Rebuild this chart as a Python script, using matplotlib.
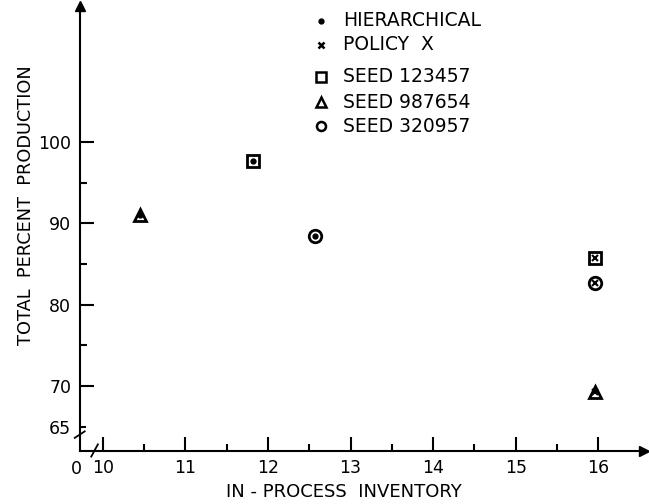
#!/usr/bin/env python3

import matplotlib
matplotlib.use("Agg")
import matplotlib.pyplot as plt

#-------------------------------------------------------------
# data (order: seed 123457, 987654, 320957)
seeds = ["123457", "987654", "320957"]
seedMarkers = ["s", "^", "o"]
hierX = [11.82, 10.45, 12.57]
hierY = [97.7, 91.0, 88.5]
policyX = [15.96, 15.96, 15.96]
policyY = [85.7, 69.3, 82.7]

xTicks = [10, 11, 12, 13, 14, 15, 16]
xMinor = [10.5, 11.5, 12.5, 13.5, 14.5, 15.5]
yTicks = [70, 80, 90, 100]
yMinor = [75, 85, 95]
legendLabels = ["HIERARCHICAL", "POLICY  X", "SEED 123457", "SEED 987654", "SEED 320957"]
legendMarkers = [".", "x", "s", "^", "o"]

#-------------------------------------------------------------
def main():
    plt.rcParams["font.family"] = ["DejaVu Sans"]
    fig = plt.figure(figsize=(6.49, 5.04), dpi=100)
    ax = fig.add_axes([0, 0, 1, 1])
    ax.set_xlim(8.755, 16.613)
    ax.set_ylim(55.46, 117.52)

    # axes drawn like the original hand-made graph
    x0, y0 = 9.72, 62.02
    for s in ["top", "right"]:
        ax.spines[s].set_visible(False)
    ax.spines["left"].set_position(("data", x0))
    ax.spines["bottom"].set_position(("data", y0))
    ax.spines["left"].set_bounds(y0, 116.8)
    ax.spines["bottom"].set_bounds(x0, 16.55)
    ax.spines["left"].set_linewidth(1.5)
    ax.spines["bottom"].set_linewidth(1.5)
    ax.plot(x0, 116.8, "^k", markersize=7, clip_on=False)
    ax.plot(16.55, y0, ">k", markersize=7, clip_on=False)

    ax.set_xticks(xTicks)
    ax.set_xticks(xMinor, minor=True)
    ax.set_yticks(yTicks + [65])
    ax.set_yticks(yMinor, minor=True)
    ax.set_yticklabels([str(v) for v in yTicks] + ["65"])
    ax.tick_params(which="both", direction="in", width=1.5, labelsize=12.5, pad=6)
    ax.tick_params(which="major", length=10)
    ax.tick_params(which="minor", length=5)
    ax.yaxis.get_major_ticks()[-1].tick1line.set_markersize(4)
    ax.text(x0 - 0.04, y0 - 1.1, "0", ha="center", va="top", fontsize=12.5)

    # axis break marks
    ax.plot([x0 - 0.06, x0 + 0.06], [63.6, 64.4], color="k", lw=1.3)
    ax.plot([9.86, 9.94], [61.3, 62.8], color="k", lw=1.3)

    ax.set_xlabel("IN - PROCESS  INVENTORY", fontsize=13)
    ax.set_ylabel("TOTAL  PERCENT  PRODUCTION", fontsize=12.8)
    ax.xaxis.set_label_coords(0.53, 1 - 492 / 504.0)
    ax.xaxis.label.set_va("center")
    ax.yaxis.set_label_coords(35 / 649.0, 1 - 205 / 504.0)

    # points: each seed marker with a dot (hierarchical) or a cross (policy X)
    for i in range(len(seeds)):
        ax.plot(hierX[i], hierY[i], seedMarkers[i], mfc="none", mec="k",
                markersize=9, mew=2)
        ax.plot(hierX[i], hierY[i], "o", color="k", markersize=3.5)
        ax.plot(policyX[i], policyY[i], seedMarkers[i], mfc="none", mec="k",
                markersize=9, mew=2)
        ax.plot(policyX[i], policyY[i], "x", color="k", markersize=5, mew=1.5)

    # hand-made legend
    rows = [20.7, 45, 77, 102, 126]
    for lab, mk, r in zip(legendLabels, legendMarkers, rows):
        yy = 1 - r / 504.0
        if mk == ".":
            ax.plot(321 / 649.0, yy, "o", color="k", markersize=3.5,
                    transform=ax.transAxes)
        elif mk == "x":
            ax.plot(321 / 649.0, yy, "x", color="k", markersize=5, mew=1.8,
                    transform=ax.transAxes)
        else:
            ax.plot(321 / 649.0, yy, mk, mfc="none", mec="k", markersize=6.5,
                    mew=1.8, transform=ax.transAxes)
        ax.text(343 / 649.0, yy, lab, fontsize=13.5, va="center", ha="left",
                transform=ax.transAxes)

    fig.savefig("out.png", dpi=100)
    plt.close(fig)

#-------------------------------------------------------------
if __name__ == "__main__":
    main()
